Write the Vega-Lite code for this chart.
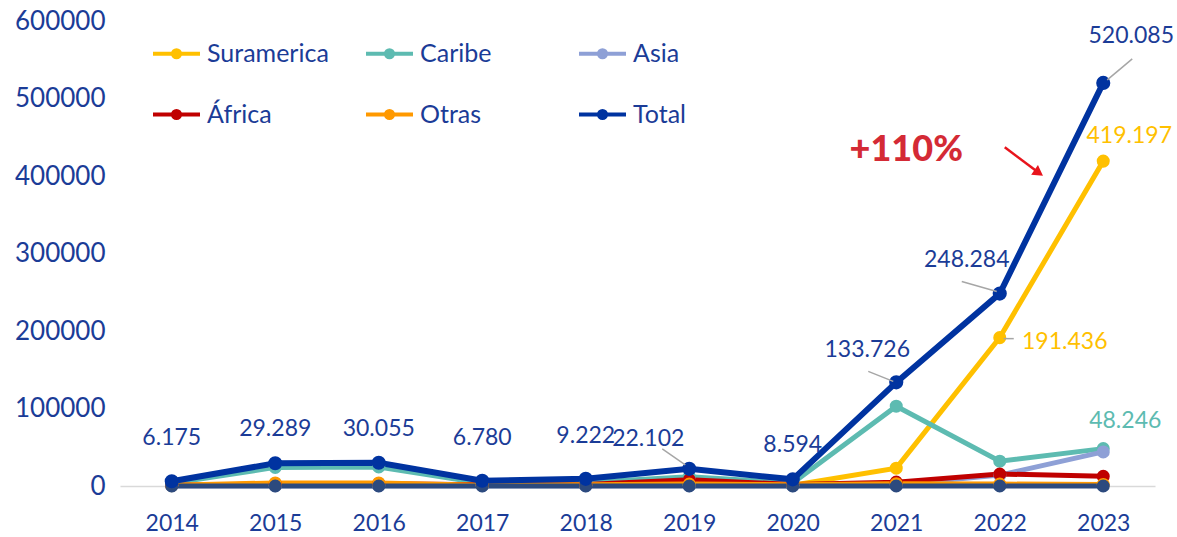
{
  "$schema": "https://vega.github.io/schema/vega-lite/v6.json",
  "autosize": "none",
  "width": 1035,
  "height": 465,
  "padding": {"left": 120, "top": 21, "right": 22, "bottom": 51},
  "background": "white",
  "config": {
    "view": {"stroke": null},
    "font": "Lato",
    "text": {"font": "Lato"}
  },
  "data": {
    "values": [
      {"year": "2014", "serie": "Suramerica", "value": 500},
      {"year": "2015", "serie": "Suramerica", "value": 1500},
      {"year": "2016", "serie": "Suramerica", "value": 1800},
      {"year": "2017", "serie": "Suramerica", "value": 1000},
      {"year": "2018", "serie": "Suramerica", "value": 1200},
      {"year": "2019", "serie": "Suramerica", "value": 1500},
      {"year": "2020", "serie": "Suramerica", "value": 1000},
      {"year": "2021", "serie": "Suramerica", "value": 23000},
      {"year": "2022", "serie": "Suramerica", "value": 191436},
      {"year": "2023", "serie": "Suramerica", "value": 419197},
      {"year": "2014", "serie": "Caribe", "value": 3500},
      {"year": "2015", "serie": "Caribe", "value": 24000},
      {"year": "2016", "serie": "Caribe", "value": 24500},
      {"year": "2017", "serie": "Caribe", "value": 3500},
      {"year": "2018", "serie": "Caribe", "value": 4500},
      {"year": "2019", "serie": "Caribe", "value": 12000},
      {"year": "2020", "serie": "Caribe", "value": 4000},
      {"year": "2021", "serie": "Caribe", "value": 103000},
      {"year": "2022", "serie": "Caribe", "value": 32000},
      {"year": "2023", "serie": "Caribe", "value": 48246},
      {"year": "2014", "serie": "Asia", "value": 200},
      {"year": "2015", "serie": "Asia", "value": 300},
      {"year": "2016", "serie": "Asia", "value": 300},
      {"year": "2017", "serie": "Asia", "value": 200},
      {"year": "2018", "serie": "Asia", "value": 300},
      {"year": "2019", "serie": "Asia", "value": 500},
      {"year": "2020", "serie": "Asia", "value": 300},
      {"year": "2021", "serie": "Asia", "value": 1500},
      {"year": "2022", "serie": "Asia", "value": 14000},
      {"year": "2023", "serie": "Asia", "value": 44000},
      {"year": "2014", "serie": "África", "value": 1000},
      {"year": "2015", "serie": "África", "value": 2500},
      {"year": "2016", "serie": "África", "value": 3000},
      {"year": "2017", "serie": "África", "value": 1500},
      {"year": "2018", "serie": "África", "value": 2000},
      {"year": "2019", "serie": "África", "value": 8000},
      {"year": "2020", "serie": "África", "value": 2000},
      {"year": "2021", "serie": "África", "value": 5000},
      {"year": "2022", "serie": "África", "value": 15500},
      {"year": "2023", "serie": "África", "value": 12500},
      {"year": "2014", "serie": "Otras", "value": 1000},
      {"year": "2015", "serie": "Otras", "value": 4000},
      {"year": "2016", "serie": "Otras", "value": 4000},
      {"year": "2017", "serie": "Otras", "value": 1000},
      {"year": "2018", "serie": "Otras", "value": 1500},
      {"year": "2019", "serie": "Otras", "value": 2500},
      {"year": "2020", "serie": "Otras", "value": 1500},
      {"year": "2021", "serie": "Otras", "value": 3000},
      {"year": "2022", "serie": "Otras", "value": 2500},
      {"year": "2023", "serie": "Otras", "value": 2000},
      {"year": "2014", "serie": "Base", "value": 0},
      {"year": "2015", "serie": "Base", "value": 0},
      {"year": "2016", "serie": "Base", "value": 0},
      {"year": "2017", "serie": "Base", "value": 0},
      {"year": "2018", "serie": "Base", "value": 0},
      {"year": "2019", "serie": "Base", "value": 0},
      {"year": "2020", "serie": "Base", "value": 0},
      {"year": "2021", "serie": "Base", "value": 0},
      {"year": "2022", "serie": "Base", "value": 0},
      {"year": "2023", "serie": "Base", "value": 0},
      {"year": "2014", "serie": "Total", "value": 6175, "label": "6.175"},
      {"year": "2015", "serie": "Total", "value": 29289, "label": "29.289"},
      {"year": "2016", "serie": "Total", "value": 30055, "label": "30.055"},
      {"year": "2017", "serie": "Total", "value": 6780, "label": "6.780"},
      {"year": "2018", "serie": "Total", "value": 9222, "label": "9.222"},
      {"year": "2019", "serie": "Total", "value": 22102, "label": "22.102"},
      {"year": "2020", "serie": "Total", "value": 8594, "label": "8.594"},
      {"year": "2021", "serie": "Total", "value": 133726, "label": "133.726"},
      {"year": "2022", "serie": "Total", "value": 248284, "label": "248.284"},
      {"year": "2023", "serie": "Total", "value": 520085, "label": "520.085"}
    ]
  },
  "encoding": {
    "x": {
      "field": "year", "type": "ordinal",
      "scale": {"type": "point", "padding": 0.5},
      "axis": {
        "title": null, "labelAngle": 0, "ticks": false, "grid": false,
        "domainColor": "#d9d9d9", "domainWidth": 1.5,
        "labelFontSize": 23, "labelColor": "#1b3c97", "labelPadding": 26, "labelFont": "Lato"
      }
    },
    "y": {
      "field": "value", "type": "quantitative",
      "scale": {"domain": [0, 600000], "nice": false},
      "axis": {
        "title": null, "domain": false, "ticks": false, "grid": false,
        "values": [0, 100000, 200000, 300000, 400000, 500000, 600000],
        "format": "d", "labelFontSize": 26, "labelColor": "#1b3c97", "labelPadding": 15, "labelFont": "Lato"
      }
    }
  },
  "layer": [
    {
      "mark": {"type": "line"},
      "encoding": {
        "color": {
          "field": "serie", "type": "nominal",
          "scale": {
            "domain": ["Suramerica", "Caribe", "Asia", "África", "Otras", "Total", "Base"],
            "range": ["#FFC000", "#5DBBB1", "#8EA0D6", "#C00000", "#FF9900", "#0033A0", "#2C4A7E"]
          },
          "legend": {
            "orient": "none", "legendX": 31, "legendY": 7, "direction": "horizontal",
            "columns": 3, "gridAlign": "all", "columnPadding": 29, "rowPadding": 22,
            "title": null,
            "values": ["Suramerica", "Caribe", "Asia", "África", "Otras", "Total"],
            "symbolType": "M-1,0L1,0M-0.15,0A0.15,0.15,0,1,1,0.15,0A0.15,0.15,0,1,1,-0.15,0Z",
            "symbolSize": 2209, "symbolStrokeWidth": 4, "labelOffset": 5,
            "labelFontSize": 25, "labelColor": "#1b3c97", "labelFont": "Lato", "labelLimit": 300
          }
        },
        "strokeWidth": {
          "condition": {"test": "datum.serie === 'Total'", "value": 6},
          "value": 5
        }
      }
    },
    {
      "mark": {"type": "point", "filled": true, "opacity": 1},
      "encoding": {
        "color": {"field": "serie", "type": "nominal"},
        "size": {
          "condition": {"test": "datum.serie === 'Total'", "value": 200},
          "value": 170
        }
      }
    },
    {
      "transform": [{"filter": "datum.serie === 'Total' && indexof(['2014','2017','2018'], datum.year) >= 0"}],
      "mark": {"type": "text", "fontSize": 23, "color": "#1b3c97", "dy": -43, "baseline": "middle"},
      "encoding": {"text": {"field": "label"}}
    },
    {
      "transform": [{"filter": "datum.serie === 'Total' && indexof(['2015','2016','2020'], datum.year) >= 0"}],
      "mark": {"type": "text", "fontSize": 23, "color": "#1b3c97", "dy": -34, "baseline": "middle"},
      "encoding": {"text": {"field": "label"}}
    },
    {
      "transform": [{"filter": "datum.serie === 'Total' && datum.year === '2019'"}],
      "mark": {"type": "text", "fontSize": 23, "color": "#1b3c97", "dx": -41, "dy": -30, "baseline": "middle"},
      "encoding": {"text": {"field": "label"}}
    },
    {
      "transform": [{"filter": "datum.serie === 'Total' && datum.year === '2021'"}],
      "mark": {"type": "text", "fontSize": 23, "color": "#1b3c97", "dx": -29, "dy": -32, "baseline": "middle"},
      "encoding": {"text": {"field": "label"}}
    },
    {
      "transform": [{"filter": "datum.serie === 'Total' && datum.year === '2022'"}],
      "mark": {"type": "text", "fontSize": 23, "color": "#1b3c97", "dx": -33, "dy": -34, "baseline": "middle"},
      "encoding": {"text": {"field": "label"}}
    },
    {
      "transform": [{"filter": "datum.serie === 'Total' && datum.year === '2023'"}],
      "mark": {"type": "text", "fontSize": 23, "color": "#1b3c97", "dx": 28, "dy": -47, "baseline": "middle"},
      "encoding": {"text": {"field": "label"}}
    },
    {
      "transform": [{"filter": "datum.serie === 'Suramerica' && datum.year === '2023'"}, {"calculate": "'419.197'", "as": "label"}],
      "mark": {"type": "text", "fontSize": 23, "color": "#FFC000", "dx": 26, "dy": -25, "baseline": "middle"},
      "encoding": {"text": {"field": "label"}}
    },
    {
      "transform": [{"filter": "datum.serie === 'Suramerica' && datum.year === '2022'"}, {"calculate": "'191.436'", "as": "label"}],
      "mark": {"type": "text", "fontSize": 23, "color": "#FFC000", "dx": 65, "dy": 4, "baseline": "middle"},
      "encoding": {"text": {"field": "label"}}
    },
    {
      "transform": [{"filter": "datum.serie === 'Caribe' && datum.year === '2023'"}, {"calculate": "'48.246'", "as": "label"}],
      "mark": {"type": "text", "fontSize": 23, "color": "#5DBBB1", "dx": 22, "dy": -28, "baseline": "middle"},
      "encoding": {"text": {"field": "label"}}
    },
    {
      "transform": [{"filter": "datum.serie === 'Total' && datum.year === '2019'"}],
      "mark": {"type": "rule", "color": "#a6a6a6", "strokeWidth": 1.5, "xOffset": -4, "yOffset": -4, "x2Offset": -27, "y2Offset": -20},
      "encoding": {"x2": {"field": "year"}, "y2": {"field": "value"}}
    },
    {
      "transform": [{"filter": "datum.serie === 'Total' && datum.year === '2021'"}],
      "mark": {"type": "rule", "color": "#a6a6a6", "strokeWidth": 1.5, "xOffset": -3, "yOffset": -1, "x2Offset": -28, "y2Offset": -11},
      "encoding": {"x2": {"field": "year"}, "y2": {"field": "value"}}
    },
    {
      "transform": [{"filter": "datum.serie === 'Total' && datum.year === '2022'"}],
      "mark": {"type": "rule", "color": "#a6a6a6", "strokeWidth": 1.5, "xOffset": -3, "yOffset": -2, "x2Offset": -38, "y2Offset": -12},
      "encoding": {"x2": {"field": "year"}, "y2": {"field": "value"}}
    },
    {
      "transform": [{"filter": "datum.serie === 'Total' && datum.year === '2023'"}],
      "mark": {"type": "rule", "color": "#a6a6a6", "strokeWidth": 1.5, "xOffset": 4, "yOffset": -3, "x2Offset": 29, "y2Offset": -24},
      "encoding": {"x2": {"field": "year"}, "y2": {"field": "value"}}
    },
    {
      "transform": [{"filter": "datum.serie === 'Suramerica' && datum.year === '2022'"}],
      "mark": {"type": "rule", "color": "#a6a6a6", "strokeWidth": 1.5, "xOffset": 4, "yOffset": 1, "x2Offset": 14, "y2Offset": 1},
      "encoding": {"x2": {"field": "year"}, "y2": {"field": "value"}}
    },
    {
      "data": {"values": [{"year": "2021", "value": 433000, "label": "+110%"}]},
      "mark": {"type": "text", "fontSize": 36, "fontWeight": 900, "color": "#D42A35", "dx": 10, "baseline": "middle", "font": "Lato"},
      "encoding": {"text": {"field": "label"}}
    },
    {
      "data": {"values": [{"year": "2022", "value": 437000, "value2": 406000}]},
      "mark": {"type": "rule", "color": "#E8141C", "strokeWidth": 2.5, "xOffset": 5, "x2Offset": 37},
      "encoding": {"x2": {"field": "year"}, "y2": {"field": "value2"}}
    },
    {
      "data": {"values": [{"year": "2022", "value": 404000}]},
      "mark": {"type": "point", "shape": "triangle-right", "filled": true, "opacity": 1, "color": "#E8141C", "size": 140, "angle": 35, "xOffset": 39}
    }
  ]
}
